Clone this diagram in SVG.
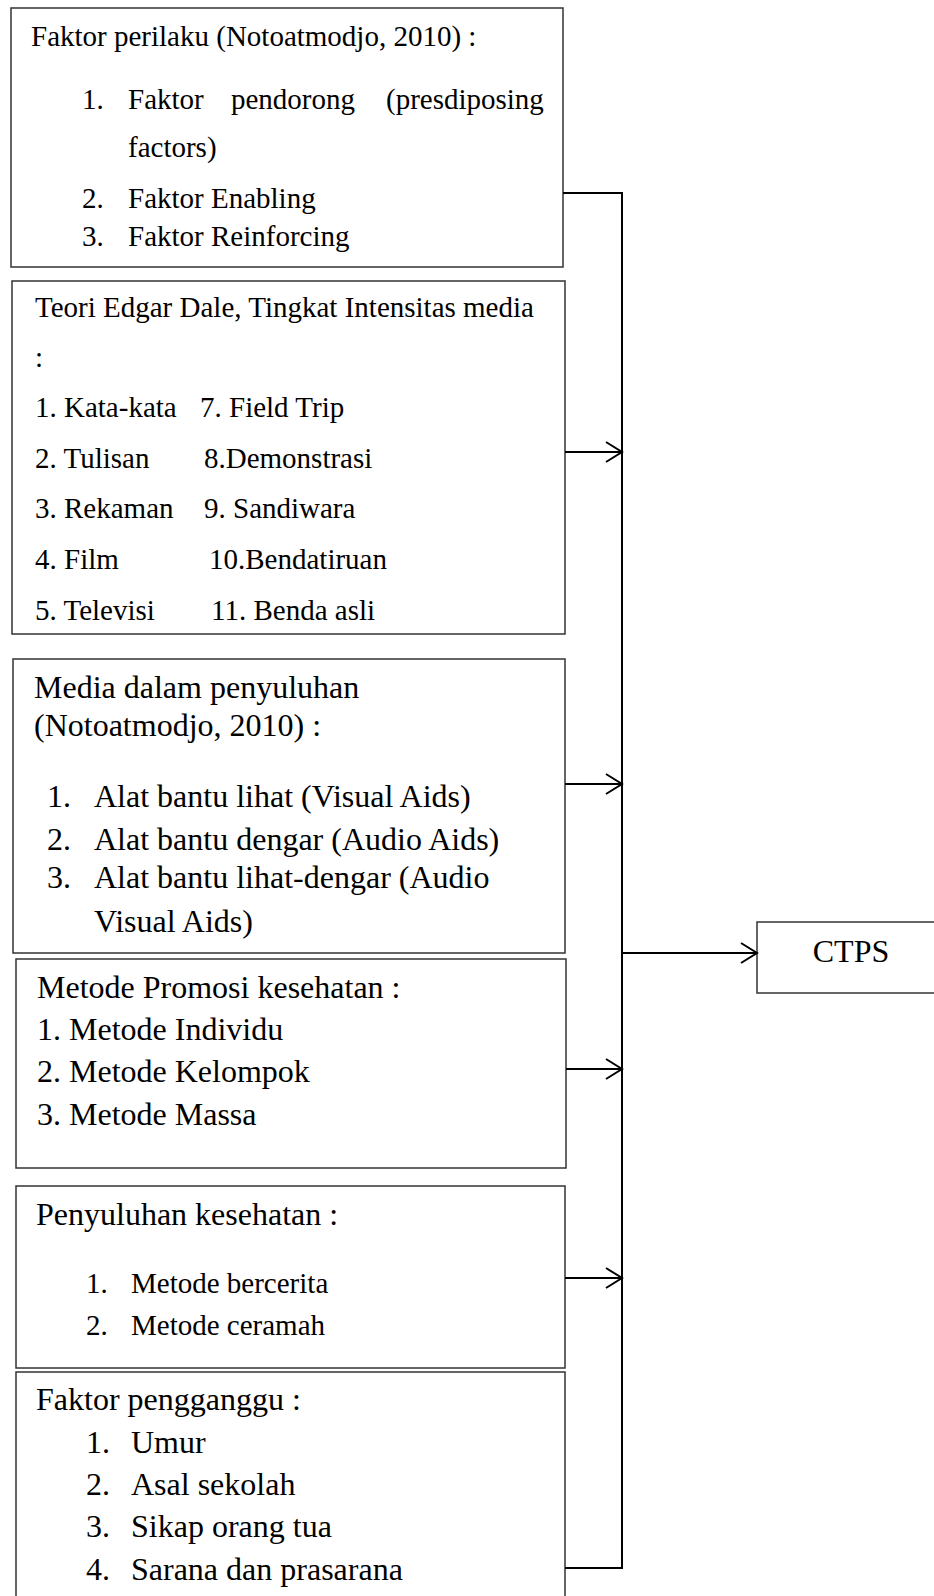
<svg xmlns="http://www.w3.org/2000/svg" width="934" height="1596" viewBox="0 0 934 1596">
<style>
.box{fill:#fff;stroke:#333;stroke-width:1.5}
.t29{font-family:"Liberation Serif","Times New Roman",serif;font-size:29px;fill:#000}
.t32{font-family:"Liberation Serif","Times New Roman",serif;font-size:32px;fill:#000}
.conn{fill:none;stroke:#000;stroke-width:2}
</style>
<defs>
<marker id="arr" markerUnits="userSpaceOnUse" viewBox="0 0 20 24" refX="18" refY="12" markerWidth="20" markerHeight="24" orient="auto">
<path d="M2,2 L18,12 L2,22" fill="none" stroke="#000" stroke-width="2"/>
</marker>
</defs>
<rect width="934" height="1596" fill="#fff"/>

<g id="node-faktor-perilaku">
<rect class="box" x="11" y="8" width="552" height="259"/>
<text class="t29" x="31" y="46">Faktor perilaku (Notoatmodjo, 2010) :</text>
<text class="t29" x="82" y="109">1.</text>
<text class="t29" x="128" y="109">Faktor</text>
<text class="t29" x="231" y="109">pendorong</text>
<text class="t29" x="386" y="109">(presdiposing</text>
<text class="t29" x="128" y="157">factors)</text>
<text class="t29" x="82" y="208">2.</text>
<text class="t29" x="128" y="208">Faktor Enabling</text>
<text class="t29" x="82" y="246">3.</text>
<text class="t29" x="128" y="246">Faktor Reinforcing</text>
</g>

<g id="node-edgar-dale">
<rect class="box" x="12" y="281" width="553" height="353"/>
<text class="t29" x="35" y="317">Teori Edgar Dale, Tingkat Intensitas media</text>
<text class="t29" x="35" y="367">:</text>
<text class="t29" x="35" y="417">1. Kata-kata</text>
<text class="t29" x="200" y="417">7. Field Trip</text>
<text class="t29" x="35" y="468">2. Tulisan</text>
<text class="t29" x="204" y="468">8.Demonstrasi</text>
<text class="t29" x="35" y="518">3. Rekaman</text>
<text class="t29" x="204" y="518">9. Sandiwara</text>
<text class="t29" x="35" y="569">4. Film</text>
<text class="t29" x="209" y="569">10.Bendatiruan</text>
<text class="t29" x="35" y="620">5. Televisi</text>
<text class="t29" x="211" y="620">11. Benda asli</text>
</g>

<g id="node-media">
<rect class="box" x="13" y="659" width="552" height="294"/>
<text class="t32" x="34" y="698">Media dalam penyuluhan</text>
<text class="t32" x="34" y="736">(Notoatmodjo, 2010) :</text>
<text class="t32" x="47" y="807">1.</text>
<text class="t32" x="94" y="807">Alat bantu lihat (Visual Aids)</text>
<text class="t32" x="47" y="850">2.</text>
<text class="t32" x="94" y="850">Alat bantu dengar (Audio Aids)</text>
<text class="t32" x="47" y="888">3.</text>
<text class="t32" x="94" y="888">Alat bantu lihat-dengar (Audio</text>
<text class="t32" x="94" y="932">Visual Aids)</text>
</g>

<g id="node-metode-promosi">
<rect class="box" x="16" y="959" width="550" height="209"/>
<text class="t32" x="37" y="998">Metode Promosi kesehatan :</text>
<text class="t32" x="37" y="1040">1. Metode Individu</text>
<text class="t32" x="37" y="1082">2. Metode Kelompok</text>
<text class="t32" x="37" y="1125">3. Metode Massa</text>
</g>

<g id="node-penyuluhan">
<rect class="box" x="16" y="1186" width="549" height="182"/>
<text class="t32" x="36" y="1225">Penyuluhan kesehatan :</text>
<text class="t29" x="86" y="1293">1.</text>
<text class="t29" x="131" y="1293">Metode bercerita</text>
<text class="t29" x="86" y="1335">2.</text>
<text class="t29" x="131" y="1335">Metode ceramah</text>
</g>

<g id="node-pengganggu">
<rect class="box" x="16" y="1372" width="549" height="240"/>
<text class="t32" x="36" y="1410">Faktor pengganggu :</text>
<text class="t32" x="86" y="1453">1.</text>
<text class="t32" x="131" y="1453">Umur</text>
<text class="t32" x="86" y="1495">2.</text>
<text class="t32" x="131" y="1495">Asal sekolah</text>
<text class="t32" x="86" y="1537">3.</text>
<text class="t32" x="131" y="1537">Sikap orang tua</text>
<text class="t32" x="86" y="1580">4.</text>
<text class="t32" x="131" y="1580">Sarana dan prasarana</text>
</g>

<g id="node-ctps">
<rect class="box" x="757" y="922" width="200" height="71"/>
<text class="t32" x="851" y="962" text-anchor="middle">CTPS</text>
</g>

<g id="connectors">
<path class="conn" d="M563,193 H622 V1568 H565"/>
<path class="conn" d="M565,452 H622" marker-end="url(#arr)"/>
<path class="conn" d="M565,784 H622" marker-end="url(#arr)"/>
<path class="conn" d="M566,1069 H622" marker-end="url(#arr)"/>
<path class="conn" d="M565,1278 H622" marker-end="url(#arr)"/>
<path class="conn" d="M622,953 H757" marker-end="url(#arr)"/>
</g>
</svg>
